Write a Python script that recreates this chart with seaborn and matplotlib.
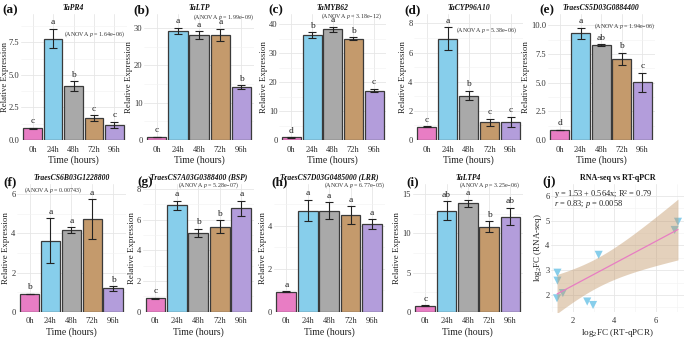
import numpy as np
import pandas as pd
import matplotlib
matplotlib.use("Agg")
import matplotlib.pyplot as plt
from matplotlib.ticker import MultipleLocator, FormatStrFormatter, AutoMinorLocator
import seaborn as sns

# ---------------- data ----------------
times = ["0h", "24h", "48h", "72h", "96h"]
bar_colors = ["#E87DC4", "#87CEEB", "#A9A9A9", "#C49A6C", "#B39DDB"]

titles = ["TaPR4", "TaLTP", "TaMYB62", "TaCYP96A10", "TraesCS5D03G0884400",
          "TraesCS6B03G1228800", "TraesCS7A03G0388400 (BSP)",
          "TraesCS7D03G0485000 (LRR)", "TaLTP4"]
panel_tags = ["(a)", "(b)", "(c)", "(d)", "(e)", "(f)", "(g)", "(h)", "(i)", "(j)"]

mean_a = [0.92, 7.80, 4.12, 1.68, 1.15]
err_a = [0.04, 0.76, 0.38, 0.22, 0.24]
mean_b = [0.80, 29.2, 28.1, 28.1, 14.1]
err_b = [0.10, 0.80, 1.00, 1.60, 0.50]
mean_c = [0.90, 36.3, 38.3, 35.0, 17.1]
err_c = [0.10, 0.90, 0.80, 0.55, 0.55]
mean_d = [0.91, 6.93, 3.04, 1.21, 1.26]
err_d = [0.03, 0.79, 0.32, 0.25, 0.34]
mean_e = [0.87, 9.33, 8.28, 7.08, 5.04]
err_e = [0.03, 0.47, 0.08, 0.53, 0.83]
mean_f = [0.90, 3.63, 4.16, 4.72, 1.19]
err_f = [0.02, 1.15, 0.16, 1.02, 0.12]
mean_g = [0.89, 6.95, 5.15, 5.55, 6.75]
err_g = [0.03, 0.30, 0.25, 0.40, 0.50]
mean_h = [0.93, 4.70, 4.70, 4.50, 4.06]
err_h = [0.02, 0.50, 0.40, 0.40, 0.23]
mean_i = [0.77, 12.9, 13.85, 10.87, 12.14]
err_i = [0.05, 1.17, 0.47, 0.66, 1.13]

letters_a = ["c", "a", "b", "c", "c"]
letters_b = ["c", "a", "a", "a", "b"]
letters_c = ["d", "b", "a", "b", "c"]
letters_d = ["c", "a", "b", "c", "c"]
letters_e = ["d", "a", "ab", "b", "c"]
letters_f = ["b", "a", "a", "a", "b"]
letters_g = ["c", "a", "b", "b", "a"]
letters_h = ["a", "a", "a", "a", "a"]
letters_i = ["c", "ab", "a", "b", "ab"]

anova_p = ["1.64e\u221206", "1.99e\u221209", "3.18e\u221212", "5.38e\u221206", "1.94e\u221206",
           "0.00743", "5.28e\u221207", "6.77e\u221205", "3.25e\u221206"]

means = [mean_a, mean_b, mean_c, mean_d, mean_e, mean_f, mean_g, mean_h, mean_i]
errs = [err_a, err_b, err_c, err_d, err_e, err_f, err_g, err_h, err_i]
letters = [letters_a, letters_b, letters_c, letters_d, letters_e,
           letters_f, letters_g, letters_h, letters_i]

# RNA-seq vs RT-qPCR
qpcr_log2fc = [1.26, 1.26, 1.24, 1.52, 2.69, 2.97, 3.24, 6.89, 7.05]
rnaseq_log2fc = [2.90, 2.58, 1.87, 2.08, 1.74, 1.60, 3.62, 4.62, 4.95]

# ---------------- layout (pixels) ----------------
W, H = 685, 339
row_y = [(14, 140), (184, 311.7)]
col_x = [[(20.5, 126.5), (144, 254.2), (279, 386.4), (414, 523.2), (547.5, 654.8)],
         [(17, 125.5), (142.5, 254.2), (273.5, 384.9), (412.5, 523.2), (551, 684)]]
ytops = [9.69, 33.7, 43.6, 8.64, 11.0, 6.53, 8.33, 5.94, 16.3]
ystep = [2.5, 10, 10, 2, 2.5, 2, 2, 2, 5]
yfmt = ["%.1f", "%d", "%d", "%d", "%.1f", "%d", "%d", "%d", "%d"]
anova_pos = [(0.98, 0.84, "right"), (1.0, 0.975, "right"), (0.96, 0.985, "right"),
             (0.94, 0.873, "right"), (1.0, 0.90, "right"), (0.065, 0.953, "left"),
             (0.59, 0.99, "center"), (1.0, 0.99, "right"), (0.97, 0.99, "right")]
tag_x = [[2, 133, 268, 404, 539], [3, 137, 271, 406, 542]]
tag_y = [10, 182]

sns.set_theme(style="whitegrid")
plt.rcParams["font.family"] = ["Liberation Serif", "DejaVu Serif"]
plt.rcParams["mathtext.fontset"] = "custom"
plt.rcParams["mathtext.rm"] = "Liberation Serif"
plt.rcParams["mathtext.it"] = "Liberation Serif:italic"
plt.rcParams["mathtext.bf"] = "Liberation Serif:bold"

fig = plt.figure(figsize=(W / 100, H / 100), dpi=100)
fig.patch.set_facecolor("white")


def make_ax(r, c):
    x0, x1 = col_x[r][c]
    y0, y1 = row_y[r]
    return fig.add_axes([x0 / W, 1 - y1 / H, (x1 - x0) / W, (y1 - y0) / H])


def style_ax(ax):
    ax.set_facecolor("white")
    for s in ax.spines.values():
        s.set_visible(False)
    ax.grid(True, which="major", color="#E6E6E6", lw=0.6)
    ax.grid(True, which="minor", color="#F2F2F2", lw=0.4)
    ax.tick_params(which="both", length=0, labelsize=6.1, colors="#333333")
    ax.tick_params(axis="x", pad=4)
    ax.tick_params(axis="y", pad=1.0)
    ax.set_axisbelow(True)


for k in range(9):
    r, c = divmod(k, 5)
    ax = make_ax(r, c)
    df = pd.DataFrame({"time": times, "value": means[k]})
    sns.barplot(data=df, x="time", y="value", hue="time", palette=bar_colors,
                order=times, hue_order=times, legend=False, errorbar=None,
                saturation=1, width=0.92, edgecolor="#3A3A3A", linewidth=0.9,
                ax=ax, zorder=2)
    ax.errorbar(np.arange(len(times)), means[k], yerr=errs[k], fmt="none",
                ecolor="#222222", elinewidth=0.8, capsize=3.2, capthick=0.8, zorder=3)
    ax.set_xlim(-0.6, 4.6)
    ax.set_ylim(0, ytops[k])
    ax.yaxis.set_major_locator(MultipleLocator(ystep[k]))
    ax.yaxis.set_major_formatter(FormatStrFormatter(yfmt[k]))
    ax.yaxis.set_minor_locator(AutoMinorLocator(2))
    style_ax(ax)
    for i, (m, e, l) in enumerate(zip(means[k], errs[k], letters[k])):
        ax.text(i, m + e + ytops[k] * 0.02, l, ha="center", va="bottom",
                fontsize=6.8, color="#222222", zorder=4)
    ax.set_title(titles[k], fontsize=5.5, fontweight="bold", fontstyle="italic",
                 pad=3.2, color="#111111")
    ax.set_xlabel("Time (hours)", fontsize=7, color="#222222", labelpad=1.5)
    if k == 0:
        ax.set_ylabel("Relative Expression", fontsize=6.2, color="#222222")
        x0 = col_x[0][0][0]
        ax.yaxis.set_label_coords((8.9 - x0) / (col_x[0][0][1] - x0), 0.5)
    else:
        ax.set_ylabel("Relative Expression", fontsize=6.4, color="#222222", labelpad=0.8)
    ax_, ay_, ha_ = anova_pos[k]
    ax.text(ax_, ay_, "(ANOVA $\\it{p}$ = " + anova_p[k] + ")", transform=ax.transAxes,
            ha=ha_, va="center", fontsize=4.3, color="#333333", zorder=5, clip_on=False)

# panel (j)
ax = make_ax(1, 4)
xq = np.asarray(qpcr_log2fc)
yr = np.asarray(rnaseq_log2fc)
sns.regplot(x=qpcr_log2fc, y=rnaseq_log2fc, ax=ax, marker="v", ci=None,
            scatter_kws=dict(s=34, color="#87CEEB", edgecolor="none", zorder=2, alpha=1),
            line_kws=dict(color="#E87DC3", lw=0.9, zorder=4))
# 95% confidence band of the linear fit (t-based, df = n-2)
n = len(xq)
slope, intercept = np.polyfit(xq, yr, 1)
resid = yr - (intercept + slope * xq)
s_err = np.sqrt(np.sum(resid ** 2) / (n - 2))
t_crit = 2.3646  # t(0.975, df=7)
grid = np.linspace(xq.min(), xq.max(), 100)
half = t_crit * s_err * np.sqrt(1 / n + (grid - xq.mean()) ** 2 / np.sum((xq - xq.mean()) ** 2))
fit = intercept + slope * grid
ax.fill_between(grid, fit - half, fit + half, color="#C49A6C", alpha=0.45,
                linewidth=0, zorder=3)
ax.set_xlim(0.95, 7.34)
ax.set_ylim(1.33, 6.47)
ax.xaxis.set_major_locator(MultipleLocator(2))
ax.xaxis.set_minor_locator(MultipleLocator(1))
ax.yaxis.set_major_locator(MultipleLocator(1))
ax.yaxis.set_minor_locator(MultipleLocator(0.5))
style_ax(ax)
ax.set_title("RNA-seq vs RT-qPCR", fontsize=5.8, fontweight="bold", pad=3.2, color="#111111")
ax.set_xlabel("log$_2$FC (RT-qPCR)", fontsize=6.6, color="#222222", labelpad=1.5)
ax.set_ylabel("log$_2$FC (RNA-seq)", fontsize=6.4, color="#222222", labelpad=0.8)
ax.text(0.02, 0.92, "y = 1.53 + 0.564x; R$^2$ = 0.79", transform=ax.transAxes,
        ha="left", va="center", fontsize=6, color="#222222", zorder=6)
ax.text(0.02, 0.84, "$\\it{r}$ = 0.83; $\\it{p}$ = 0.0058", transform=ax.transAxes,
        ha="left", va="center", fontsize=6, color="#222222", zorder=6)

for r in range(2):
    for c in range(5):
        fig.text(tag_x[r][c] / W, 1 - tag_y[r] / H, panel_tags[r * 5 + c],
                 fontsize=9.5, fontweight="bold", ha="left", va="center", color="#111111")

fig.savefig("out.png", dpi=100, facecolor="white")
